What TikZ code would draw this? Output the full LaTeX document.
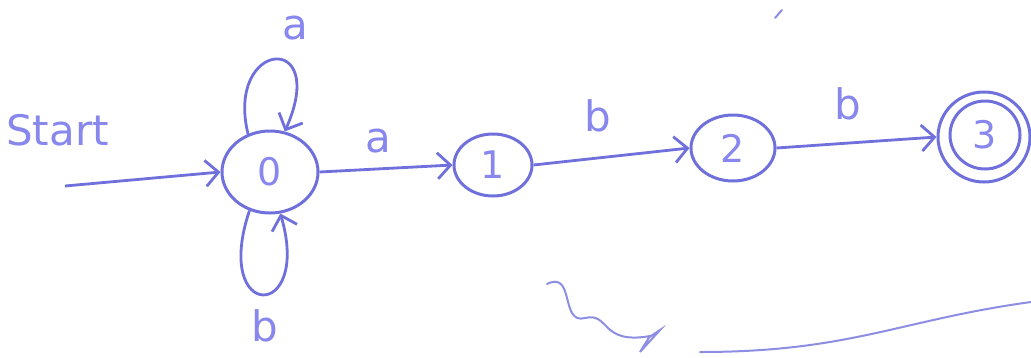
\documentclass[tikz,border=0pt]{standalone}
\usepackage{fontspec}
\setmainfont{DejaVu Sans}
\usetikzlibrary{arrows.meta,shapes.geometric}
\definecolor{ink}{RGB}{112,112,220}
\definecolor{inktext}{RGB}{135,135,238}
\begin{document}
\begin{tikzpicture}[x=1pt,y=-1pt,
    state/.style={draw=ink,ellipse,line width=3pt,inner sep=0pt,text=inktext,font=\fontsize{38}{42}\selectfont},
    lbl/.style={text=inktext,font=\fontsize{42}{46}\selectfont,inner sep=0pt},
    trans/.style={draw=ink,line width=2.8pt,-{Straight Barb[length=13pt,width=26pt,line width=2.8pt]}},
    stray/.style={draw=ink!80,line width=2pt,line cap=round}]
\useasboundingbox (0,0) rectangle (1031,357);
    \node[state,minimum width=96pt,minimum height=82pt] (s0) at (270,172) {0};
    \node[state,minimum width=78pt,minimum height=62pt] (s1) at (493,165) {1};
    \node[state,minimum width=84pt,minimum height=66pt] (s2) at (733,148) {2};
    \node[state,minimum width=70pt,minimum height=68pt] (s3) at (985,135) {3};
    \node[draw=ink,ellipse,line width=3pt,minimum width=92pt,minimum height=90pt] (s3o) at (984,137) {};
    \node[lbl,anchor=west] (start) at (6,130) {Start};
    \coordinate (startend) at (65,186);
    \node[lbl] (la0) at (295,28) {a};
    \node[lbl,anchor=south] (lb0) at (265,342) {b};
    \node[lbl] (l01) at (378,141) {a};
    \node[lbl] (l12) at (598,116) {b};
    \node[lbl] (l23) at (848,104) {b};
 \path[trans] (startend) -- (s0.west);
 \path[trans] (s0.120) .. controls (225,40) and (330,30) .. (s0.70);
 \path[trans] (s0.242) .. controls (212,322) and (312,322) .. (s0.284);
 \path[trans] (s0.east) -- (s1.west);
 \path[trans] (s1.east) -- (s2.west);
 \path[trans] (s2.east) -- (s3o.west);
 % leftover marks of the scan
 \coordinate (m1) at (547,284); \coordinate (m2) at (650,336);
 \path[stray] (m1) .. controls (575,270) and (560,325) .. (585,318) .. controls (610,312) and (600,345) .. (m2);
 \path[stray] (m2) -- (640,352) -- (660,330) -- (648,338);
 \path[stray] (700,352) .. controls (850,352) and (900,320) .. (1031,302);
 \path[stray] (775,18) -- (782,10);
\end{tikzpicture}
\end{document}
